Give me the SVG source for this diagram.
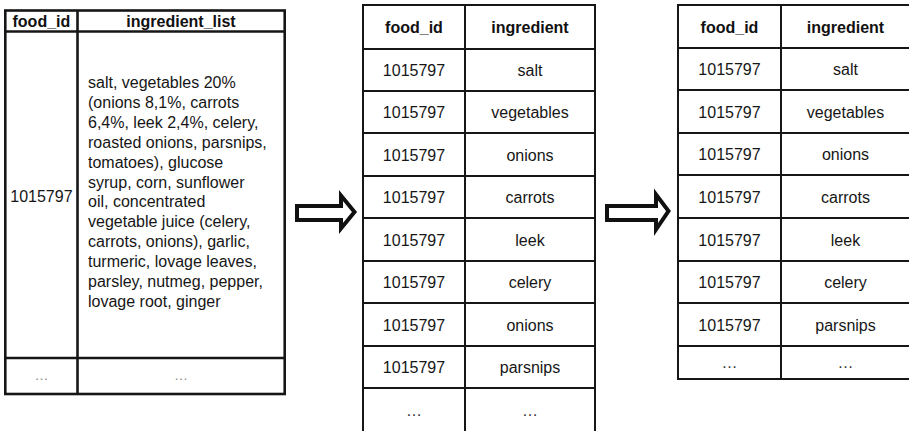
<svg xmlns="http://www.w3.org/2000/svg" width="909" height="431" viewBox="0 0 909 431">
  <style>
    .grid { fill: none; stroke: #161616; stroke-width: 2; }
    .grid-bold { fill: none; stroke: #161616; stroke-width: 2.6; }
    .hd { font-family: "Liberation Sans", Arial, sans-serif; font-size: 16px; font-weight: bold; fill: #111; text-anchor: middle; }
    .cell { font-family: "Liberation Sans", Arial, sans-serif; font-size: 16px; fill: #161616; text-anchor: middle; }
    .body { font-family: "Liberation Sans", Arial, sans-serif; font-size: 16px; fill: #161616; }
    .more { font-family: "Liberation Sans", Arial, sans-serif; font-size: 16px; fill: #333; text-anchor: middle; }
    .more-lt { font-family: "Liberation Sans", Arial, sans-serif; font-size: 14px; fill: #8a8a8a; text-anchor: middle; }
    .block-arrow { fill: #fff; stroke: #111; stroke-width: 4; stroke-linejoin: miter; }
  </style>
  <rect width="909" height="431" fill="#fff"/>

  <!-- Source table: one row per food with the raw ingredient list -->
  <g id="table-raw">
    <rect class="grid-bold" x="5.3" y="10.5" width="279.4" height="383.5"/>
    <line class="grid-bold" x1="5.3" y1="31.5" x2="284.7" y2="31.5"/>
    <line class="grid-bold" x1="5.3" y1="358" x2="284.7" y2="358"/>
    <line class="grid-bold" x1="77.5" y1="10.5" x2="77.5" y2="394"/>
    <text class="hd" x="41.4" y="26.7">food_id</text>
    <text class="hd" x="181" y="26.7">ingredient_list</text>
    <text class="cell" x="41.4" y="201.5">1015797</text>
    <text class="body" x="88" y="88">salt, vegetables 20%</text>
    <text class="body" x="88" y="108">(onions 8,1%, carrots</text>
    <text class="body" x="88" y="127.8">6,4%, leek 2,4%, celery,</text>
    <text class="body" x="88" y="147.7">roasted onions, parsnips,</text>
    <text class="body" x="88" y="167.6">tomatoes), glucose</text>
    <text class="body" x="88" y="187.5">syrup, corn, sunflower</text>
    <text class="body" x="88" y="207.4">oil, concentrated</text>
    <text class="body" x="88" y="227.3">vegetable juice (celery,</text>
    <text class="body" x="88" y="247.2">carrots, onions), garlic,</text>
    <text class="body" x="88" y="267.1">turmeric, lovage leaves,</text>
    <text class="body" x="88" y="287">parsley, nutmeg, pepper,</text>
    <text class="body" x="88" y="306.9">lovage root, ginger</text>
    <text class="more-lt" x="41.4" y="380">…</text>
    <text class="more-lt" x="181" y="380">…</text>
  </g>

  <!-- Exploded table: one row per ingredient -->
  <g id="table-exploded">
    <rect class="grid" x="363" y="5" width="232" height="427"/>
    <line class="grid" x1="465" y1="5" x2="465" y2="432"/>
    <line class="grid" x1="363" y1="49" x2="595" y2="49"/>
    <line class="grid" x1="363" y1="91" x2="595" y2="91"/>
    <line class="grid" x1="363" y1="133" x2="595" y2="133"/>
    <line class="grid" x1="363" y1="176" x2="595" y2="176"/>
    <line class="grid" x1="363" y1="218" x2="595" y2="218"/>
    <line class="grid" x1="363" y1="261" x2="595" y2="261"/>
    <line class="grid" x1="363" y1="303" x2="595" y2="303"/>
    <line class="grid" x1="363" y1="346" x2="595" y2="346"/>
    <line class="grid" x1="363" y1="388" x2="595" y2="388"/>
    <text class="hd" x="414" y="33">food_id</text>
    <text class="hd" x="530" y="33">ingredient</text>
    <text class="cell" x="414" y="76">1015797</text>
    <text class="cell" x="530" y="76">salt</text>
    <text class="cell" x="414" y="118">1015797</text>
    <text class="cell" x="530" y="118">vegetables</text>
    <text class="cell" x="414" y="160.5">1015797</text>
    <text class="cell" x="530" y="160.5">onions</text>
    <text class="cell" x="414" y="203">1015797</text>
    <text class="cell" x="530" y="203">carrots</text>
    <text class="cell" x="414" y="245.5">1015797</text>
    <text class="cell" x="530" y="245.5">leek</text>
    <text class="cell" x="414" y="288">1015797</text>
    <text class="cell" x="530" y="288">celery</text>
    <text class="cell" x="414" y="330.5">1015797</text>
    <text class="cell" x="530" y="330.5">onions</text>
    <text class="cell" x="414" y="373">1015797</text>
    <text class="cell" x="530" y="373">parsnips</text>
    <text class="more" x="414" y="416">…</text>
    <text class="more" x="530" y="416">…</text>
  </g>

  <!-- Deduplicated table: repeated ingredients removed -->
  <g id="table-distinct">
    <rect class="grid" x="678" y="5" width="232" height="374"/>
    <line class="grid" x1="781" y1="5" x2="781" y2="379"/>
    <line class="grid" x1="678" y1="48" x2="910" y2="48"/>
    <line class="grid" x1="678" y1="90" x2="910" y2="90"/>
    <line class="grid" x1="678" y1="133" x2="910" y2="133"/>
    <line class="grid" x1="678" y1="175" x2="910" y2="175"/>
    <line class="grid" x1="678" y1="218" x2="910" y2="218"/>
    <line class="grid" x1="678" y1="261" x2="910" y2="261"/>
    <line class="grid" x1="678" y1="303" x2="910" y2="303"/>
    <line class="grid" x1="678" y1="346" x2="910" y2="346"/>
    <text class="hd" x="729.5" y="32.5">food_id</text>
    <text class="hd" x="845.5" y="32.5">ingredient</text>
    <text class="cell" x="729.5" y="75">1015797</text>
    <text class="cell" x="845.5" y="75">salt</text>
    <text class="cell" x="729.5" y="117.5">1015797</text>
    <text class="cell" x="845.5" y="117.5">vegetables</text>
    <text class="cell" x="729.5" y="160">1015797</text>
    <text class="cell" x="845.5" y="160">onions</text>
    <text class="cell" x="729.5" y="202.5">1015797</text>
    <text class="cell" x="845.5" y="202.5">carrots</text>
    <text class="cell" x="729.5" y="245.5">1015797</text>
    <text class="cell" x="845.5" y="245.5">leek</text>
    <text class="cell" x="729.5" y="288">1015797</text>
    <text class="cell" x="845.5" y="288">celery</text>
    <text class="cell" x="729.5" y="330.5">1015797</text>
    <text class="cell" x="845.5" y="330.5">parsnips</text>
    <text class="more" x="729.5" y="368">…</text>
    <text class="more" x="845.5" y="368">…</text>
  </g>

  <!-- Transformation arrows between the tables -->
  <g id="connectors">
    <polygon class="block-arrow" points="297,206 341,206 341,195.5 354.5,212 341,228.5 341,220 297,220"/>
    <polygon class="block-arrow" points="607,206 656,206 656,194.5 668.5,211 656,229.5 656,220 607,220"/>
  </g>
</svg>
